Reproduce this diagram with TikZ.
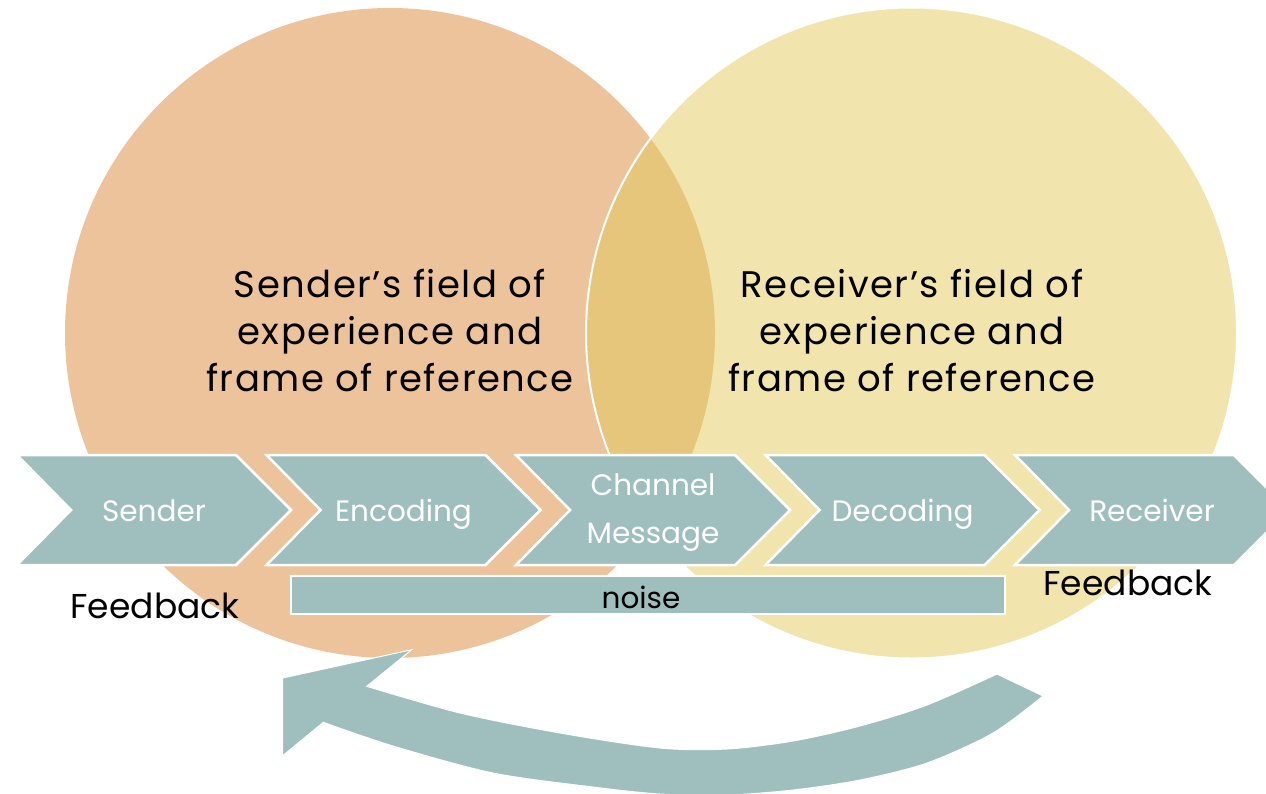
\documentclass[tikz,border=0pt]{standalone}
\usepackage{fontspec}
\setmainfont{Poppins}
\newfontfamily\headfont{Poppins}[LetterSpace=4]
\definecolor{sendC}{HTML}{EDC39B}
\definecolor{recvC}{HTML}{F1E4AC}
\definecolor{overC}{HTML}{E6C67A}
\definecolor{tealC}{HTML}{9EBFBE}
\tikzset{
  chevshape/.style={fill=tealC, draw=white, line width=2.5pt, line join=miter},
  chevtext/.style={text=white, font=\fontsize{29.5}{48}\selectfont, align=center, inner sep=0pt},
  headtext/.style={text=black, font=\headfont\fontsize{37}{47}\selectfont, align=center, inner sep=0pt},
  fbtext/.style={text=black, font=\fontsize{34.5}{40}\selectfont, inner sep=0pt},
}
\begin{document}
\begin{tikzpicture}[x=1pt,y=-1pt]
\useasboundingbox (0,0) rectangle (1266,793);
\clip (0,0) rectangle (1266,793);
% circles
\fill[sendC] (390,333) circle[radius=325];
\fill[recvC] (911.5,333) circle[radius=325.5];
\begin{scope}
  \clip (390,333) circle[radius=325];
  \fill[overC] (911.5,333) circle[radius=325.5];
\end{scope}
\draw[white, line width=2pt] (911.5,333) circle[radius=325.5];
% headings
\node[headtext] (sfield) at (390,331) {Sender’s field of\\experience and\\frame of reference};
\node[headtext] (rfield) at (912,331) {Receiver’s field of\\experience and\\frame of reference};
% chevrons
\foreach \i/\txt/\nm in {0/Sender/snd, 1/Encoding/enc, 3/Decoding/dec, 4/Receiver/rcv}{
  \pgfmathsetmacro{\L}{17+249.5*\i}
  \fill[chevshape] (\L,455) -- ({\L+219},455) -- ({\L+274},510) -- ({\L+219},565) -- (\L,565) -- ({\L+54},510) -- cycle;
  \node[chevtext, anchor=base] (\nm) at ({\L+137},521) {\txt};
}
\fill[chevshape] (516,455) -- (735,455) -- (790,510) -- (735,565) -- (516,565) -- (570,510) -- cycle;
\node[chevtext] (chn) at (653,513) {Channel\\Message};
% noise bar
\node[fill=tealC, draw=white, line width=2.5pt, minimum width=714pt, minimum height=38pt, inner sep=0pt] (noisebar) at (648,595) {};
\node[text=black, font=\fontsize{29.5}{34}\selectfont, inner sep=0pt, anchor=base] (noise) at (641,608) {noise};
% feedback labels
\node[fbtext, anchor=base] (fbl) at (155,618) {Feedback};
\node[fbtext, anchor=base] (fbr) at (1128,595) {Feedback};
% curved feedback arrow
\fill[tealC, draw=white, line width=1pt]
  plot[smooth] coordinates {(366.7,686.3) (460,713) (560,733) (660,748) (727,749) (793,741) (860,726) (927,705) (997,674)}
  -- (1043,696)
  -- plot[smooth] coordinates {(1043,696) (993,733) (927,763) (860,780) (793,790) (727,795) (660,794) (593,787) (493,773) (393,746) (323.3,722.3)}
  -- (282.7,755.7) -- (282.7,678) -- (411.7,649.7) -- cycle;
\end{tikzpicture}
\end{document}
